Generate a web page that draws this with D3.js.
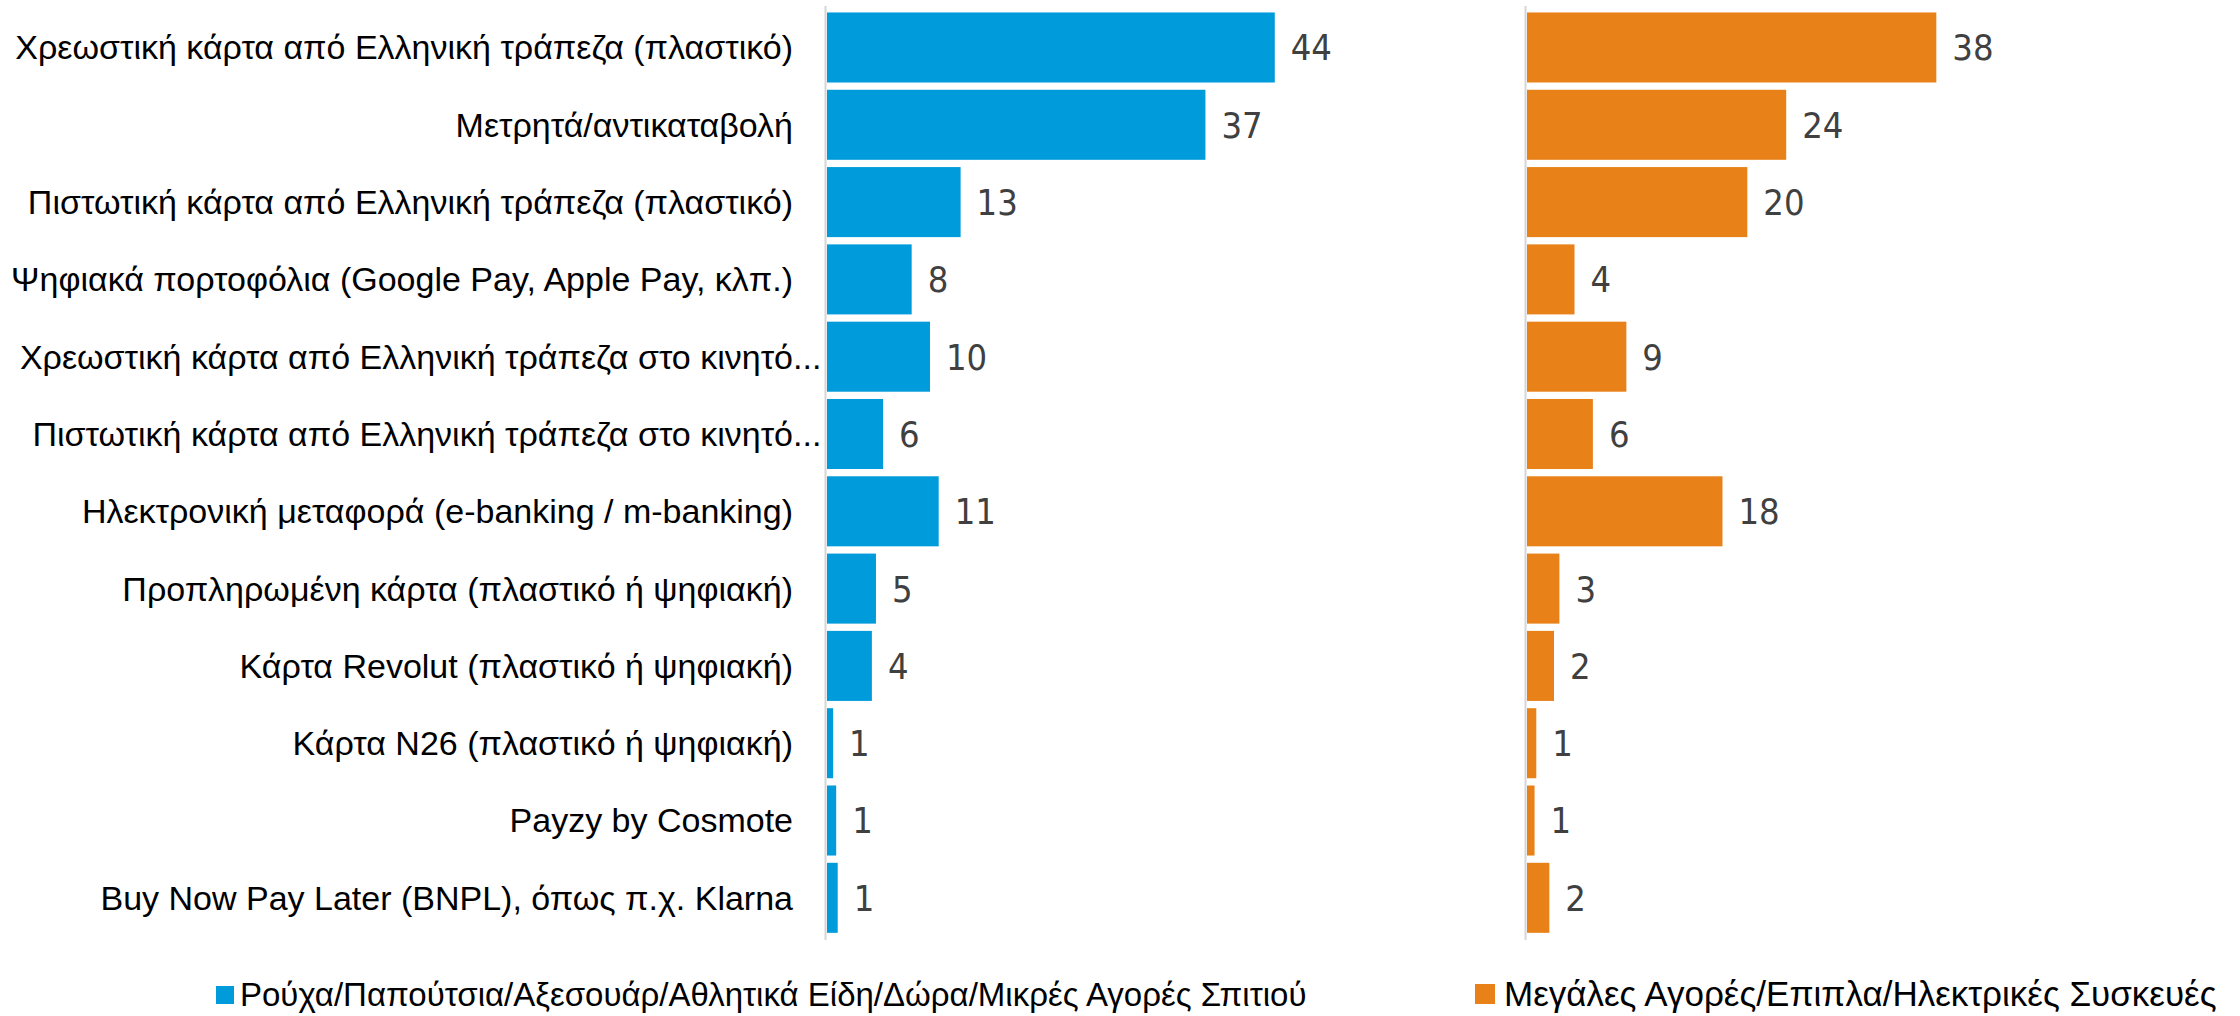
<!DOCTYPE html>
<html>
<head>
<meta charset="utf-8">
<script src="https://cdn.jsdelivr.net/npm/d3@7"></script>
<style>
  html, body { margin: 0; padding: 0; background: #ffffff; }
  svg { display: block; }
</style>
</head>
<body>
<svg id="chart" width="2240" height="1016"></svg>
<script>
const categories = [
  "Χρεωστική κάρτα από Ελληνική τράπεζα (πλαστικό)",
  "Μετρητά/αντικαταβολή",
  "Πιστωτική κάρτα από Ελληνική τράπεζα (πλαστικό)",
  "Ψηφιακά πορτοφόλια (Google Pay, Apple Pay, κλπ.)",
  "Χρεωστική κάρτα από Ελληνική τράπεζα στο κινητό...",
  "Πιστωτική κάρτα από Ελληνική τράπεζα στο κινητό...",
  "Ηλεκτρονική μεταφορά (e-banking / m-banking)",
  "Προπληρωμένη κάρτα (πλαστικό ή ψηφιακή)",
  "Κάρτα Revolut (πλαστικό ή ψηφιακή)",
  "Κάρτα N26 (πλαστικό ή ψηφιακή)",
  "Payzy by Cosmote",
  "Buy Now Pay Later (BNPL), όπως π.χ. Klarna"
];
const seriesNames = [
  "Ρούχα/Παπούτσια/Αξεσουάρ/Αθλητικά Είδη/Δώρα/Μικρές Αγορές Σπιτιού",
  "Μεγάλες Αγορές/Επιπλα/Ηλεκτρικές Συσκευές"
];
const smallPurchases = [43.9, 37.1, 13.1, 8.3, 10.1, 5.5, 10.95, 4.8, 4.4, 0.6, 0.9, 1.05];
const largePurchases = [37.9, 24.0, 20.4, 4.4, 9.2, 6.1, 18.1, 3.0, 2.5, 0.86, 0.7, 2.07];
const smallLabels = [44, 37, 13, 8, 10, 6, 11, 5, 4, 1, 1, 1];
const largeLabels = [38, 24, 20, 4, 9, 6, 18, 3, 2, 1, 1, 2];
const colors = ["#009BDB", "#E98119"];

const svg = d3.select("#chart");

const y = d3.scaleBand()
  .domain(categories)
  .range([8.6, 936.7])
  .paddingInner(0.094)
  .paddingOuter(0.05);

const xLeft = d3.scaleLinear().domain([0, 44]).range([827, 827 + 44 * 10.2]);
const xRight = d3.scaleLinear().domain([0, 38]).range([1527, 1527 + 38 * 10.8]);

const labelFont = "'Liberation Sans', Arial, sans-serif";
const valueFont = "'DejaVu Sans Condensed', 'DejaVu Sans', sans-serif";

// Category labels
const labelX = 793;
const lab = svg.append("g").attr("class", "labels");
categories.forEach((c, i) => {
  const cy = y(c) + y.bandwidth() / 2;
  const trunc = c.endsWith("...");
  lab.append("text")
    .attr("x", labelX).attr("y", cy).attr("dy", "0.35em")
    .attr("text-anchor", "end")
    .style("font-family", labelFont).style("font-size", "34px").attr("fill", "#000")
    .text(trunc ? c.slice(0, -3) : c);
  if (trunc) {
    lab.append("text")
      .attr("x", labelX).attr("y", cy).attr("dy", "0.35em")
      .attr("text-anchor", "start")
      .style("font-family", labelFont).style("font-size", "34px").attr("fill", "#000")
      .text("...");
  }
});

function panel(xs, values, labels, color) {
  const g = svg.append("g");
  g.append("line")
    .attr("x1", xs(0) - 1.5).attr("x2", xs(0) - 1.5)
    .attr("y1", 6).attr("y2", 940)
    .attr("stroke", "#d6d6d6").attr("stroke-width", 2);
  g.selectAll("rect").data(values).join("rect")
    .attr("x", xs(0))
    .attr("y", (d, i) => y(categories[i]))
    .attr("width", d => xs(d) - xs(0))
    .attr("height", y.bandwidth())
    .attr("fill", color);
  g.selectAll("text.val").data(values).join("text")
    .attr("class", "val")
    .attr("x", d => xs(d) + 16)
    .attr("y", (d, i) => y(categories[i]) + y.bandwidth() / 2)
    .attr("dy", "0.36em")
    .style("font-family", valueFont).style("font-size", "36px")
    .attr("fill", "#404040")
    .text((d, i) => labels[i]);
}
panel(xLeft, smallPurchases, smallLabels, colors[0]);
panel(xRight, largePurchases, largeLabels, colors[1]);

// Legend
const legendPos = [
  {sq: 216, sy: 986, size: 18, tx: 240, fs: 33},
  {sq: 1475, sy: 984, size: 20, tx: 1504, fs: 35}
];
seriesNames.forEach((n, i) => {
  const p = legendPos[i];
  svg.append("rect")
    .attr("x", p.sq).attr("y", p.sy)
    .attr("width", p.size).attr("height", p.size)
    .attr("fill", colors[i]);
  svg.append("text")
    .attr("x", p.tx).attr("y", 994).attr("dy", "0.35em")
    .style("font-family", labelFont).style("font-size", p.fs + "px").attr("fill", "#000")
    .text(n);
});
</script>
</body>
</html>
